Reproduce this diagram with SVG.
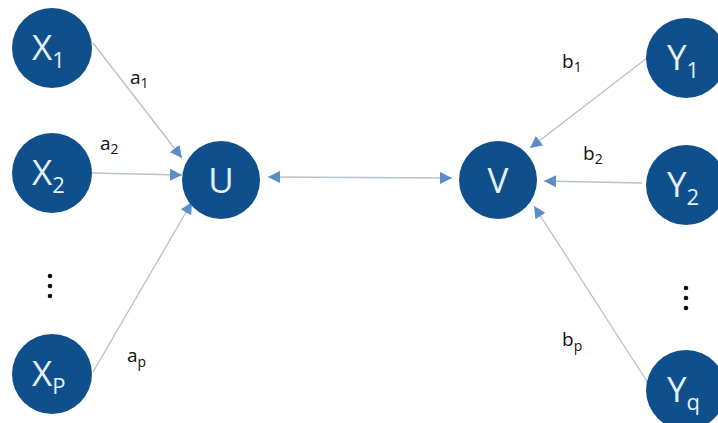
<svg xmlns="http://www.w3.org/2000/svg" width="718" height="423" viewBox="0 0 718 423">
<defs>
<style>
.node{fill:#0f4f8c;}
.nt{fill:#e4f0fb;font-family:"Open Sans","Liberation Sans",sans-serif;font-size:35px;}
.ns{font-size:22px;}
.lb{fill:#111;font-family:"Open Sans","Liberation Sans",sans-serif;font-size:19px;}
.ls{font-size:14px;}
.edge{stroke:#b8c0ca;stroke-width:1.3;fill:none;marker-end:url(#ah);}
.dot{fill:#111;}
</style>
<marker id="ah" viewBox="0 0 10 10" refX="10" refY="5" markerWidth="12" markerHeight="12" markerUnits="userSpaceOnUse" orient="auto">
<path d="M0,0 L10,5 L0,10 z" fill="#5b8ec4"/>
</marker>
<marker id="ahs" viewBox="0 0 10 10" refX="0" refY="5" markerWidth="12" markerHeight="12" markerUnits="userSpaceOnUse" orient="auto">
<path d="M10,0 L0,5 L10,10 z" fill="#5b8ec4"/>
</marker>
</defs>
<rect width="718" height="423" fill="#ffffff"/>
<g id="connectors">
<line class="edge" x1="93" y1="43" x2="182" y2="158"/>
<line class="edge" x1="92" y1="173" x2="182" y2="175"/>
<line class="edge" x1="93" y1="372" x2="192" y2="202"/>
<line class="edge" x1="268" y1="177" x2="452" y2="178" marker-start="url(#ahs)"/>
<line class="edge" x1="647" y1="58" x2="530" y2="148"/>
<line class="edge" x1="642" y1="183" x2="544" y2="181"/>
<line class="edge" x1="648" y1="383" x2="534" y2="206"/>
</g>
<g id="X1"><circle class="node" cx="52" cy="48" r="40"/><text class="nt" x="32" y="60">X<tspan class="ns" dy="8">1</tspan></text></g>
<g id="X2"><circle class="node" cx="52" cy="173" r="40"/><text class="nt" x="32" y="185">X<tspan class="ns" dy="8">2</tspan></text></g>
<g id="XP"><circle class="node" cx="52" cy="374" r="40"/><text class="nt" x="32" y="386">X<tspan class="ns" dy="8">P</tspan></text></g>
<g id="U"><circle class="node" cx="221" cy="180" r="39"/><text class="nt" x="221" y="193" text-anchor="middle">U</text></g>
<g id="V"><circle class="node" cx="498" cy="180" r="39"/><text class="nt" x="498" y="193" text-anchor="middle">V</text></g>
<g id="Y1"><circle class="node" cx="686" cy="58" r="40"/><text class="nt" x="667" y="70">Y<tspan class="ns" dy="8">1</tspan></text></g>
<g id="Y2"><circle class="node" cx="686" cy="185" r="40"/><text class="nt" x="667" y="197">Y<tspan class="ns" dy="8">2</tspan></text></g>
<g id="Yq"><circle class="node" cx="686" cy="390" r="40"/><text class="nt" x="667" y="402">Y<tspan class="ns" dy="8">q</tspan></text></g>
<g id="labels">
<text class="lb" x="130" y="84">a<tspan class="ls" dy="4">1</tspan></text>
<text class="lb" x="100" y="150">a<tspan class="ls" dy="4">2</tspan></text>
<text class="lb" x="127" y="362">a<tspan class="ls" dy="5">p</tspan></text>
<text class="lb" x="562" y="68">b<tspan class="ls" dy="4">1</tspan></text>
<text class="lb" x="583" y="160">b<tspan class="ls" dy="4">2</tspan></text>
<text class="lb" x="562" y="346">b<tspan class="ls" dy="5">p</tspan></text>
</g>
<g id="dotsL"><circle class="dot" cx="50" cy="276" r="2.3"/><circle class="dot" cx="50" cy="286" r="2.3"/><circle class="dot" cx="50" cy="296" r="2.3"/></g>
<g id="dotsR"><circle class="dot" cx="686" cy="288" r="2.3"/><circle class="dot" cx="686" cy="298" r="2.3"/><circle class="dot" cx="686" cy="308" r="2.3"/></g>
</svg>
